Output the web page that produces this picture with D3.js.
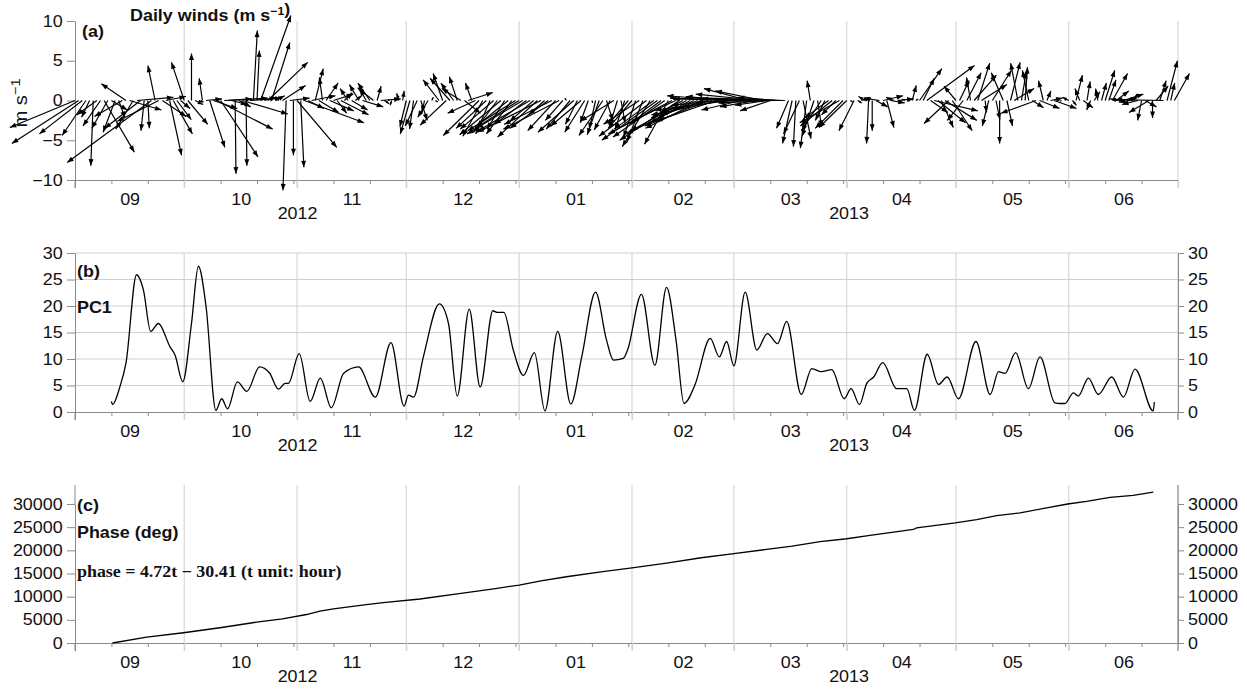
<!DOCTYPE html>
<html>
<head>
<meta charset="utf-8">
<script src="https://cdn.jsdelivr.net/npm/d3@7"></script>
<style>
  body { margin: 0; background: #fff; }
  svg text { font-family: "Liberation Sans", Arial, Helvetica, sans-serif; fill: #111; }
</style>
</head>
<body>
<svg id="chart" width="1247" height="689"></svg>
<script>
// ---- time frame and labels ----
const startDate = "2012-09-01";
const endDate = "2013-07-01";
const monthLabels = ["09", "10", "11", "12", "01", "02", "03", "04", "05", "06"];
const yearLabels = ["2012", "2013"];
const windTicks = [-10, -5, 0, 5, 10];
const pcTicks = [0, 5, 10, 15, 20, 25, 30];
const phaseTicks = [0, 5000, 10000, 15000, 20000, 25000, 30000];

// ---- daily wind components (m/s), one value per day from 1 Sep 2012 ----
const windU = [
  // Sep
  -8.2, -8.4, -5.4, -3.0, -1.0, -0.3, -2.5, -2.2, 3.8, -2.0, 2.0, -1.5, 0.8, -3.5, -3.1,
  4.0, -2.2, 4.6, -4.5, -0.4, 0.2, -10.6, -0.9, -5.2, 3.0, 2.5, 1.5, 2.4, 1.8, 1.2,
  // Oct
  -1.6, 2.5, 0, 1, 0.6, -0.4, 2, 1.9, 3, 7, 4.7, 3.5, 5, 2, 0.1,
  1.5, 5.7, 0.1, 4, 0.5, 0.3, 3.8, 1.5, 5, 2.3, 1.2, -0.5, 2.9, -0.4, 2.5, 0,
  // Nov
  5, 0.4, 7.5, 2, 3, 1, 2.5, -0.4, 1.5, 3, 2.5, 1.2, 3.5, 1, -1,
  2, 0.8, -1.2, 2.6, -0.8, -1.5, -2, 0.5, 2.5, 0.6, 0.2, -0.2, 0.1, -0.3, 0.2,
  // Dec
  -0.8, -1.2, -0.5, -1.5, 0.8, -0.3, -1.3, 0.2, 0.3, -2, -1.2, -3.3, -2.5, -1.6, -1,
  -2.4, 2, 3.1, -0.8, -3.5, -4.5, -2.5, -3.8, -1.8, -4.2, -3, -5.2, -2.2, -4, -3.2, -6,
  // Jan
  -5.5, -7, -4, -6.5, -3, -5, -8, -2, -4.8, -6, -3.5, -7, -2.2, -0.2, -3,
  -4.5, -1.5, -3.8, -2.5, -1, 0.1, -0.8, -1.5, -3, 0.8, -2, -4.2, -1, 0.5, -1.2, -2.5,
  // Feb
  -3, -1.5, -4.5, -2, -6, -3.5, -5, -7, -4, -6.5, -3, -8, -5.5, -7.5,
  -4, -7, -5, -8.5, -5, -7, -5.5, -8, -6.5, -7.5, -6, -9, -7.5, -9.5,
  // Mar
  -6, -8.5, -5, -9, -5.6, -7, -4.5, -8, -6, -4, -3.8, -7, -5, -10, -12.5,
  -1.5, -1.2, -0.3, -2, 1, -0.8, -0.4, -1.5, 0.5, -2.5, -1.2, -3, -4, -1.8, -5, -3.5,
  // Apr
  -3.5, 0.3, -1.9, 0.5, 1.2, -0.8, -0.25, 0, 1.5, -2, 2.5, 0.9, 1.8, -1, 2,
  0.2, -0.3, 0.1, 0.5, 0.3, 2.8, 1.4, 6, 2.2, 5.5, 3.5, 1.5, 4, -3.1, 2.5,
  // May
  -1.5, 1.2, -2, 1.8, -0.5, 2.8, 1.5, 3.2, 0.2, -0.8, 2.4, 0.5, 0, -1.5, 0.7,
  1.2, 2.5, -0.9, 0.6, 0.3, -0.8, 1.4, -4.4, 2.5, -0.6, 0.5, 1.5, 2.8, 0.2, -0.2, 0.1,
  // Jun
  -0.8, 0.5, 0.8, -0.6, 1.2, 0.4, -0.5, 0.7, -0.3, 0.6, 1.2, 0.9, 1.9, 1.6, -1.2,
  2.5, 1.2, -1.5, 0.3, -2, -0.5, 1.4, -2.5, 0, 1.5, 0.8, -6, 1.3, 0.5, 1.9
];
const windV = [
  // Sep
  -3.4, -5.4, -4.2, -4.4, -2.1, -8.2, -1.8, -3.2, -6.5, -3.5, -1.2, -4.0, -2.2, -2.0, 2.1,
  -1.2, -3.6, 0.4, -3.5, -3.8, -3.5, -7.8, 4.4, -2.6, -2.0, 0.5, -6.9, -4.2, -2.4, -1.0,
  // Oct
  4.8, -3, 5.9, -0.5, -0.2, 2.8, 0.2, -5.9, -1, -3.6, -7.1, 0.2, 0.3, -0.5, -9.2,
  -0.8, -1.7, -8.2, 0.3, 8.8, 6.3, 10.7, 0.4, 4.8, 7.3, 0.6, 0.3, 1.9, -11.3, 0.3, -6.9,
  // Nov
  -5.9, -8.4, -2.8, -1, 0.6, 4, -1.5, 2.9, 2.2, -1.3, 0.8, -1.6, -1.8, 1, 1.5,
  -1.2, 0.6, 2, -0.8, 1.4, 2.2, 1.6, 1.8, 0.2, -0.4, 0.1, -0.6, 0.2, 0.9, 1.2,
  // Dec
  -3.3, -4.2, -3.6, -3.2, -2.5, -1.5, -2.1, 0.4, -0.2, 2.6, 3.4, -3.1, 2.8, 2.2, 3,
  1.5, -1.6, 1, 2.2, -1.6, -4.4, -4.5, -3.5, -4.2, -3.6, -4, -4.3, -3.6, -3.2, -4.2, -3.8,
  // Jan
  -3.5, -4.2, -3, -3.8, -2.6, -4.6, -4, -1.8, -3.5, -3, -3.8, -3.6, -2.5, 0.3, -3.6,
  -4, -3, -3.2, -4, -2.8, -0.3, -3.6, -4.3, -4.4, -2.5, -3.7, -2.6, -3.2, -2.8, -3.6, -3,
  // Feb
  -3.5, -4.6, -3, -5.2, -4.5, -5.8, -3.6, -5, -3, -4.6, -5.5, -4.2, -2.6, -5,
  -2.2, -3.8, -2.8, -4.2, -2.2, -3.5, -1.8, -3.2, -1.4, -2.6, -0.6, -1.8, 0.6, -1.2,
  // Mar
  0.5, 0.3, -1.2, 0.2, 1.5, -0.2, -0.8, 0.8, 1.2, -0.6, -1.3, -0.3, 0.4, 0.2, 0.4,
  -3.5, -5.4, -5.8, -4.2, -4.8, -6, 2.5, -4.5, -3.3, -3.8, -2.5, -2.2, -3.2, -1.8, -2.8, -3.5,
  // Apr
  -3.4, -0.2, -3.8, -0.3, 0.3, 0.5, -5.4, -3.8, -0.8, 0.3, 0.6, -3.4, -0.3, 0.4, 0.2,
  0.1, 0.2, -0.1, 1.9, 0.2, 4, 2.8, 4.4, -1.5, -1.3, -2.8, -3.4, -2.5, -2.9, -3.8,
  // May
  1.8, 2.5, -2.5, 3.5, 2.9, 3.2, 4.7, 2, -1.5, -3.2, 3.8, -2.4, -5.4, 3.5, -3.2,
  4.8, 1.5, 4.7, 3.6, 4.2, 3.8, -0.9, -1.6, -1, 2.5, 1.2, 0.3, -1, 0.1, -0.1, 0.2,
  // Jun
  0.4, -0.6, 3.2, 1.5, -0.9, 2.4, -1.2, 1.1, 1.5, 2.2, 3.8, 2.6, 3.4, 1.2, 0.2,
  0.8, 0.3, -0.2, 0.8, -0.5, -2.5, -0.8, -1.5, -2.2, 1.8, 2.5, 0.1, 5, 2.2, 3.4
];

// ---- PC1 amplitude: day offset from 1 Sep 2012, value ----
const pcDay = [
  10.0, 10.3, 12.3, 14, 16.9, 18.8, 20.8, 22.9, 26.1, 27.5, 29.6, 32, 33.9, 36, 38.7, 40.3, 41.9,
  44.6, 47.2, 50.7, 53.4, 55.9, 57.7, 58.6, 61.6, 64.6, 67.4, 70.4, 73.8, 77.9, 82.5, 86.8,
  90.4, 91.6, 93, 95.7, 100.1, 102.6, 105, 108.3, 111.3, 114.8, 116, 117.8, 120.4, 123.2, 126.2,
  129.1, 132.6, 136.2, 139.2, 143, 146, 147.9, 150.6, 151.8, 155.6, 159.3, 162.5, 165.1, 167.3,
  170.3, 174.5, 177, 179, 181, 184.1, 187.3, 190.2, 193, 195.5, 199.5, 202.4, 205, 207.9, 211.3,
  213.2, 215.5, 217.5, 219.4, 221.9, 225.7, 228.5, 230.6, 234.1, 237.2, 239.6, 242.7, 247.5,
  251.4, 253.7, 255.5, 258.4, 261.9, 265.1, 269.2, 270.5, 271.9, 274.3, 275.6, 278.4, 281.1,
  284.8, 288, 291.2, 296.2, 296.5
];
const pcValue = [
  2.0, 1.4, 4.7, 9.2, 25.9, 23, 15.2, 16.7, 12.3, 10.7, 5.7, 16.7, 27.5, 19.9, 0.3, 2.5, 0.6,
  5.7, 3.9, 8.5, 7.4, 4.3, 5.4, 5.4, 11.0, 2.0, 6.4, 0.8, 7.3, 8.5, 2.8, 13.1,
  1.1, 3.2, 2.8, 10.4, 20.4, 16.7, 3.0, 19.4, 4.7, 19.1, 18.8, 18.8, 11.7, 6.9, 11.2,
  0.2, 15.2, 1.5, 10.4, 22.6, 13.6, 9.8, 10.1, 11.7, 22.2, 8.8, 23.5, 13.6, 1.6,
  5.1, 13.9, 10.4, 13.3, 8.7, 22.6, 11.7, 14.8, 12.9, 17.1, 3.3, 8.2, 7.6, 8.0, 2.5,
  4.4, 1.4, 5.4, 6.6, 9.3, 4.4, 4.4, 0.3, 10.9, 5.2, 6.6, 2.5, 13.3,
  3.3, 7.6, 7.3, 11.2, 4.4, 10.4, 1.7, 1.6, 1.6, 3.6, 3.0, 6.4, 3.3,
  6.6, 2.8, 8.1, 0.2, 1.9
];

// ---- unwrapped phase (deg): day offset from 1 Sep 2012, value ----
const phaseDay = [
  10.3, 19.7, 29.8, 39.8, 49.9, 57, 63.6, 67.3, 71, 80, 84.7, 94.8, 105, 115, 122, 128, 135,
  145, 153, 163, 172, 181, 190, 197, 204.7, 212, 218.4, 230.3, 231.2, 241.8, 247.7, 253.2,
  259.6, 266.9, 272.7, 277.9, 284.3, 290.7, 296.2
];
const phaseValue = [
  0, 1290, 2210, 3290, 4500, 5200, 6150, 6900, 7360, 8290, 8710, 9500, 10600, 11700, 12500, 13400, 14300,
  15400, 16200, 17300, 18400, 19300, 20200, 20900, 21860, 22500, 23210, 24500, 24860, 25930, 26640, 27500,
  28070, 29140, 30000, 30570, 31430, 31860, 32570
];

// ---- layout ----
const L = 75, R = 1178;
const SX = 1.12;                // horizontal glyph stretch of the lettering
const AXIS = "#8a8a8a", GRID = "#cfcfcf";
const FONT = 16;
const intFmt = d3.format("d");

const svg = d3.select("#chart");
const t0 = new Date(startDate).getTime();
const dayToDate = d => new Date(t0 + d * 864e5);

const x = d3.scaleUtc().domain([new Date(startDate), new Date(endDate)]).range([L, R]);

const monthStarts = d3.utcMonth.range(new Date(startDate), new Date(new Date(endDate).getTime() + 1));
const midMonths = monthStarts.slice(0, -1).map((m, i) => new Date((m.getTime() + monthStarts[i + 1].getTime()) / 2));
const minorTicks = d3.utcDay.range(new Date(startDate), new Date(endDate))
  .filter(d => [11, 21, 31].includes(d.getUTCDate()));
const yearStarts = [new Date(startDate), new Date("2013-01-01"), new Date(endDate)];
const midYears = yearLabels.map((_, i) => new Date((yearStarts[i].getTime() + yearStarts[i + 1].getTime()) / 2));

function styleAxis(g) {
  g.attr("font-size", FONT).attr("font-family", null);
  g.selectAll("path.domain").attr("stroke", AXIS);
  g.selectAll("line").attr("stroke", AXIS);
  g.selectAll("text").attr("fill", "#111").attr("transform", `scale(${SX},1)`);
}

function timeAxis(y0, top) {
  const g = svg.append("g");
  // month boundaries as vertical grid lines
  g.append("g").selectAll("line").data(monthStarts.slice(1)).join("line")
    .attr("x1", d => x(d)).attr("x2", d => x(d))
    .attr("y1", top).attr("y2", y0 + 8)
    .attr("stroke", GRID).attr("stroke-width", 1);
  // axis line with ten-day ticks
  g.append("g").attr("transform", `translate(0,${y0})`)
    .call(d3.axisBottom(x).tickValues(minorTicks).tickSize(4).tickSizeOuter(0).tickFormat(""))
    .call(styleAxis);
  // longer ticks at month starts
  g.append("g").attr("transform", `translate(0,${y0})`)
    .call(d3.axisBottom(x).tickValues(monthStarts).tickSize(8).tickFormat(""))
    .call(a => a.select(".domain").remove())
    .call(styleAxis)
    .call(a => a.selectAll("line").attr("stroke", (d, i) => (i === 0 ? AXIS : GRID)));
  // month names
  g.append("g").attr("transform", `translate(0,${y0})`)
    .call(d3.axisBottom(x).tickValues(midMonths).tickSize(0).tickPadding(13.5)
      .tickFormat((d, i) => monthLabels[i]))
    .call(a => a.select(".domain").remove())
    .call(styleAxis);
  // years
  g.append("g").attr("transform", `translate(0,${y0})`)
    .call(d3.axisBottom(x).tickValues(midYears).tickSize(0).tickPadding(27.5)
      .tickFormat((d, i) => yearLabels[i]))
    .call(a => a.select(".domain").remove())
    .call(styleAxis);
}

function leftAxis(y, ticks, y0) {
  svg.append("g").attr("transform", `translate(${L},0)`)
    .call(d3.axisLeft(y).tickValues(ticks).tickSize(8).tickPadding(3).tickSizeOuter(0).tickFormat(intFmt))
    .call(styleAxis);
  svg.append("line").attr("x1", L).attr("x2", L).attr("y1", y0).attr("y2", y0 + 8)
    .attr("stroke", AXIS);
}

function rightAxis(y, ticks) {
  svg.append("g").attr("transform", `translate(${R},0)`)
    .call(d3.axisRight(y).tickValues(ticks).tickSize(6).tickPadding(3).tickSizeOuter(0).tickFormat(intFmt))
    .call(styleAxis);
}

function label(px, py, parts, opts = {}) {
  const size = opts.size || FONT;
  const t = svg.append("text")
    .attr("transform", `translate(${px},${py})${opts.rotate ? ` rotate(${opts.rotate})` : ""} scale(${SX},1)`)
    .attr("font-size", size)
    .attr("font-weight", opts.bold ? "bold" : "normal")
    .attr("text-anchor", opts.anchor || "start");
  if (opts.family) t.style("font-family", opts.family);
  parts.forEach(p => {
    if (typeof p === "string") t.append("tspan").text(p);
    else t.append("tspan").attr("font-size", Math.round(size * 0.7)).attr("dy", p.dy).text(p.t);
  });
  return t;
}

// ================= (a) daily wind sticks =================
const yA = d3.scaleLinear().domain([-10, 10]).range([180, 21]);
timeAxis(yA(-10), yA(10));
leftAxis(yA, windTicks, yA(-10));

const k = yA(0) - yA(1);   // pixels per m/s, same in both directions
const winds = windU.map((u, i) => {
  const x0 = x(dayToDate(i)), y0 = yA(0);
  return { x0, y0, x1: x0 + u * k, y1: yA(windV[i]) };
});
const ga = svg.append("g");
ga.selectAll("line").data(winds).join("line")
  .attr("x1", d => d.x0).attr("y1", d => d.y0)
  .attr("x2", d => d.x1).attr("y2", d => d.y1)
  .attr("stroke", "#000").attr("stroke-width", 1.2);
ga.selectAll("path").data(winds).join("path")
  .attr("fill", "#000")
  .attr("d", d => {
    const dx = d.x1 - d.x0, dy = d.y1 - d.y0, len = Math.hypot(dx, dy);
    if (len < 0.5) return null;
    const ux = dx / len, uy = dy / len;
    const hl = Math.min(6.5, len * 0.6), hw = hl * 0.38;
    const bx = d.x1 - ux * hl, by = d.y1 - uy * hl;
    return `M${d.x1},${d.y1}L${bx - uy * hw},${by + ux * hw}L${bx + uy * hw},${by - ux * hw}Z`;
  });

label(130, 21, ["Daily winds (m s", { t: "\u22121", dy: -6 }, { t: "", dy: 6 }, ")"], { bold: true });
label(82, 37, ["(a)"], { bold: true });
label(27, 103, ["m s", { t: "\u22121", dy: -7 }], { rotate: -90, anchor: "middle", size: 18 });

// ================= (b) PC1 =================
const yB = d3.scaleLinear().domain([0, 30]).range([412, 253]);
svg.append("g").selectAll("line").data(pcTicks.slice(1)).join("line")
  .attr("x1", L).attr("x2", R).attr("y1", d => yB(d)).attr("y2", d => yB(d))
  .attr("stroke", GRID);
timeAxis(yB(0), yB(30));
leftAxis(yB, pcTicks, yB(0));
rightAxis(yB, pcTicks);
svg.append("line").attr("x1", R).attr("x2", R).attr("y1", yB(0)).attr("y2", yB(0) + 8).attr("stroke", AXIS);

const pcLine = d3.line()
  .x((d, i) => x(dayToDate(pcDay[i])))
  .y((d, i) => yB(pcValue[i]))
  .curve(d3.curveMonotoneX);
svg.append("path").datum(pcValue).attr("d", pcLine)
  .attr("fill", "none").attr("stroke", "#000").attr("stroke-width", 1.3);

label(77, 277, ["(b)"], { bold: true });
label(77, 313, ["PC1"], { bold: true });

// ================= (c) phase =================
const yC = d3.scaleLinear().domain([0, 30000]).range([643, 504]);
timeAxis(yC(0), yC(34100));
leftAxis(yC, phaseTicks, yC(0));
rightAxis(yC, phaseTicks);
svg.append("line").attr("x1", R).attr("x2", R).attr("y1", yC(34100)).attr("y2", yC(0) + 8).attr("stroke", AXIS);
svg.append("line").attr("x1", L).attr("x2", L).attr("y1", yC(34100)).attr("y2", yC(30000)).attr("stroke", AXIS);

const phaseLine = d3.line()
  .x((d, i) => x(dayToDate(phaseDay[i])))
  .y((d, i) => yC(phaseValue[i]));
svg.append("path").datum(phaseValue).attr("d", phaseLine)
  .attr("fill", "none").attr("stroke", "#000").attr("stroke-width", 1.3);

label(77, 511, ["(c)"], { bold: true });
label(77, 538, ["Phase (deg)"], { bold: true });
label(77, 577, ["phase = 4.72t \u2212 30.41 (t unit: hour)"], { bold: true, family: "'Liberation Serif', 'Times New Roman', serif" });
</script>
</body>
</html>
